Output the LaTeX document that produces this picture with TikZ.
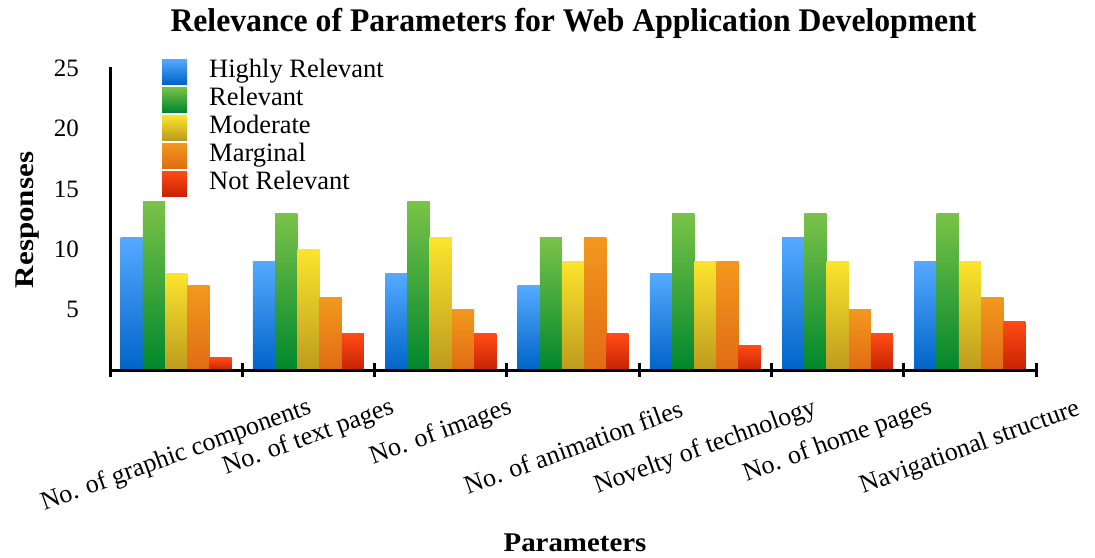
\documentclass[tikz,border=0pt]{standalone}
\usepackage{fontspec}
\setmainfont{Liberation Serif}

% bar gradients: light tone at the top, deep tone at the bottom
\definecolor{ser0T}{RGB}{85,170,255}  \definecolor{ser0B}{RGB}{0,100,200}
\definecolor{ser1T}{RGB}{122,195,72}  \definecolor{ser1B}{RGB}{0,135,45}
\definecolor{ser2T}{RGB}{252,228,45}  \definecolor{ser2B}{RGB}{190,155,30}
\definecolor{ser3T}{RGB}{242,152,30}  \definecolor{ser3B}{RGB}{225,108,20}
\definecolor{ser4T}{RGB}{255,75,20}   \definecolor{ser4B}{RGB}{200,35,5}

\tikzset{
  axisline/.style={line width=3pt, black},
  ticklab/.style={font=\fontsize{25}{25}\selectfont, anchor=east, inner sep=0pt},
  leglab/.style={font=\fontsize{26.5}{26.5}\selectfont, anchor=base west, inner sep=0pt},
  swatch/.style={minimum width=25pt, minimum height=25pt, inner sep=0pt, draw=none},
  catlab/.style={font=\fontsize{26}{26}\selectfont, rotate=20, inner sep=0pt},
  axtitle/.style={font=\bfseries\fontsize{27}{27}\selectfont, inner sep=0pt},
}

\begin{document}
\begin{tikzpicture}[x=1pt, y=-1pt]
\useasboundingbox (0,0) rectangle (1095,557);

% title
\node[font=\bfseries\fontsize{33}{33}\selectfont, anchor=base, inner sep=0pt] (title)
  at (573.5,31) {\scalebox{0.96}[1]{Relevance of Parameters for Web Application Development}};

% bars: one list per series, one value per parameter group
\foreach \vals [count=\s from 0] in
  {{11,9,8,7,8,11,9},{14,13,14,11,13,13,13},{8,10,11,9,9,9,9},{7,6,5,11,9,5,6},{1,3,3,3,2,3,4}}{
  \foreach \v [count=\g from 0] in \vals {
    \pgfmathsetmacro\xl{176.15+132.3*\g-55.5+22.2*\s}
    \pgfmathsetmacro\yt{370-12.06*\v}
    \shade[top color=ser\s T, bottom color=ser\s B] (\xl,\yt) rectangle ({\xl+22.2},370);
  }
}

% axes
\coordinate (yTop) at (110,67);
\coordinate (origin) at (110,370);
\coordinate (xEnd) at (1037,370);
\draw[axisline] (yTop) -- (origin) -- (xEnd);
\foreach \k in {0,...,7}
  \draw[axisline] ({110+132.3*\k},363) -- ({110+132.3*\k},377);

% value labels
\foreach \v in {5,10,15,20,25}
  \node[ticklab] (ytick\v) at (79,{370-12.06*\v}) {\v};

% legend
\foreach \lab [count=\s from 0] in {Highly Relevant, Relevant, Moderate, Marginal, Not Relevant}{
  \pgfmathsetmacro\ly{71.5+28*\s}
  \node[swatch, top color=ser\s T, bottom color=ser\s B] (sw\s) at (174.5,\ly) {};
  \node[leglab] (leg\s) at (209,{\ly+6}) {\lab};
}

% parameter names under the groups, centred on each group
\foreach \name/\cy [count=\i from 0] in {No. of graphic components/456,
    No. of text pages/438, No. of images/433, No. of animation files/447,
    Novelty of technology/448, No. of home pages/441.5, Navigational structure/448}{
  \node[catlab] (cat\i) at ({176.15+132.3*\i},\cy) {\name};
}

% axis titles
\node[axtitle, rotate=90, anchor=base] (ytitle) at (33,220) {\scalebox{1.15}[1]{Responses}};
\node[axtitle, anchor=base] (xtitle) at (575,551) {\scalebox{1.07}[1]{Parameters}};
\end{tikzpicture}
\end{document}
